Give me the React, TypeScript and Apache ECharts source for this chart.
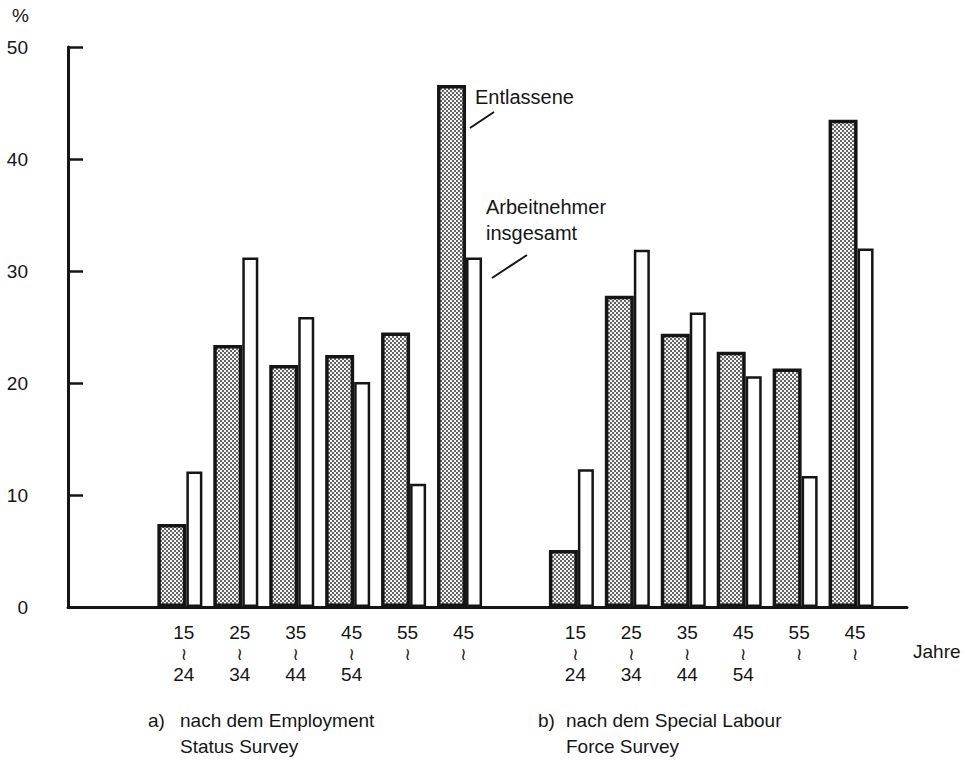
import React, { useEffect, useRef } from "react";
import * as echarts from "echarts";

// Age-group tick labels (group a and group b share the same labels)
const ageFrom = ["15", "25", "35", "45", "55", "45"];
const ageTo = ["24", "34", "44", "54", "", ""];

// a) nach dem Employment Status Survey
const entlasseneA = [7.4, 23.4, 21.6, 22.5, 24.5, 46.6];
const insgesamtA = [12.1, 31.2, 25.9, 20.1, 11.0, 31.2];

// b) nach dem Special Labour Force Survey
const entlasseneB = [5.1, 27.8, 24.4, 22.8, 21.3, 43.5];
const insgesamtB = [12.3, 31.9, 26.3, 20.6, 11.7, 32.0];

const yTicks = [0, 10, 20, 30, 40, 50];

const FONT = "'Liberation Sans', Arial, Helvetica, sans-serif";
const INK = "#151515";

function makePattern() {
  const c = document.createElement("canvas");
  c.width = 4;
  c.height = 4;
  const ctx = c.getContext("2d")!;
  ctx.fillStyle = "#f4f4f4";
  ctx.fillRect(0, 0, 4, 4);
  ctx.fillStyle = "#262626";
  ctx.beginPath();
  ctx.arc(1, 1, 0.95, 0, Math.PI * 2);
  ctx.fill();
  ctx.beginPath();
  ctx.arc(3, 3, 0.95, 0, Math.PI * 2);
  ctx.fill();
  return c;
}

export default function App() {
  const ref = useRef<HTMLDivElement>(null);

  useEffect(() => {
    if (!ref.current) return;
    const chart = echarts.init(ref.current, undefined, { renderer: "svg" });

    const ageLabels = ageFrom.map((f, i) =>
      ageTo[i] ? `{n|${f}}\n{t|≀}\n{n|${ageTo[i]}}` : `{n|${f}}\n{t|≀}`
    );
    const cats = ["", "", ...ageLabels, "", ...ageLabels, ""];
    const entData = [null, null, ...entlasseneA, null, ...entlasseneB, null];
    const insData = [null, null, ...insgesamtA, null, ...insgesamtB, null];

    const pattern = {
      image: makePattern(),
      repeat: "repeat",
      imageWidth: 4,
      imageHeight: 4,
    };

    const textStyle = (size: number) => ({ fill: INK, font: `${size}px ${FONT}` });

    chart.setOption({
      animation: false,
      backgroundColor: "#ffffff",
      grid: { left: 68, right: 59, top: 47, bottom: 159, containLabel: false },
      xAxis: {
        type: "category",
        data: cats,
        boundaryGap: false,
        axisLine: { show: true, lineStyle: { color: INK, width: 3 } },
        axisTick: { show: false },
        axisLabel: {
          interval: 0,
          color: INK,
          margin: 15,
          padding: [0, 0, 0, 8],
          rich: {
            n: { fontFamily: FONT, fontSize: 19, lineHeight: 21, color: INK },
            t: { fontFamily: "'DejaVu Sans', sans-serif", fontSize: 17, lineHeight: 21, color: INK },
          },
        },
        splitLine: { show: false },
      },
      yAxis: {
        type: "value",
        min: yTicks[0],
        max: yTicks[yTicks.length - 1],
        interval: 10,
        axisLine: { show: true, lineStyle: { color: INK, width: 3 } },
        axisTick: { show: true, inside: true, length: 15, lineStyle: { color: INK, width: 2.5 } },
        axisLabel: { color: INK, fontFamily: FONT, fontSize: 19, margin: 40 },
        splitLine: { show: false },
      },
      series: [
        {
          name: "Entlassene",
          type: "bar",
          data: entData,
          barWidth: 29,
          barGap: "0%",
          itemStyle: { color: pattern, borderColor: INK, borderWidth: 3.5 },
        },
        {
          name: "Arbeitnehmer insgesamt",
          type: "bar",
          data: insData,
          barWidth: 16,
          barGap: "0%",
          itemStyle: { color: "#ffffff", borderColor: INK, borderWidth: 2.5 },
        },
      ],
      graphic: [
        { type: "text", left: 12, top: 6, style: { text: "%", ...textStyle(19) } },
        { type: "text", x: 475, y: 97, style: { text: "Entlassene", ...textStyle(20), verticalAlign: "middle" } },
        { type: "line", shape: { x1: 470, y1: 128, x2: 494, y2: 112 }, style: { stroke: INK, lineWidth: 2 } },
        { type: "text", x: 486, y: 207, style: { text: "Arbeitnehmer", ...textStyle(20), verticalAlign: "middle" } },
        { type: "text", x: 486, y: 233, style: { text: "insgesamt", ...textStyle(20), verticalAlign: "middle" } },
        { type: "line", shape: { x1: 492, y1: 278, x2: 527, y2: 255 }, style: { stroke: INK, lineWidth: 2 } },
        { type: "text", x: 913, y: 651, style: { text: "Jahre", ...textStyle(19), verticalAlign: "middle" } },
        { type: "text", x: 148, y: 720, style: { text: "a)", ...textStyle(19), verticalAlign: "middle" } },
        { type: "text", x: 180, y: 720, style: { text: "nach dem Employment", ...textStyle(19), verticalAlign: "middle" } },
        { type: "text", x: 180, y: 746, style: { text: "Status Survey", ...textStyle(19), verticalAlign: "middle" } },
        { type: "text", x: 538, y: 720, style: { text: "b)", ...textStyle(19), verticalAlign: "middle" } },
        { type: "text", x: 566, y: 720, style: { text: "nach dem Special Labour", ...textStyle(19), verticalAlign: "middle" } },
        { type: "text", x: 566, y: 746, style: { text: "Force Survey", ...textStyle(19), verticalAlign: "middle" } },
      ],
    });

    return () => chart.dispose();
  }, []);

  return (
    <div
      ref={ref}
      style={{ position: "fixed", left: 0, top: 0, width: 966, height: 766, background: "#fff" }}
    />
  );
}
